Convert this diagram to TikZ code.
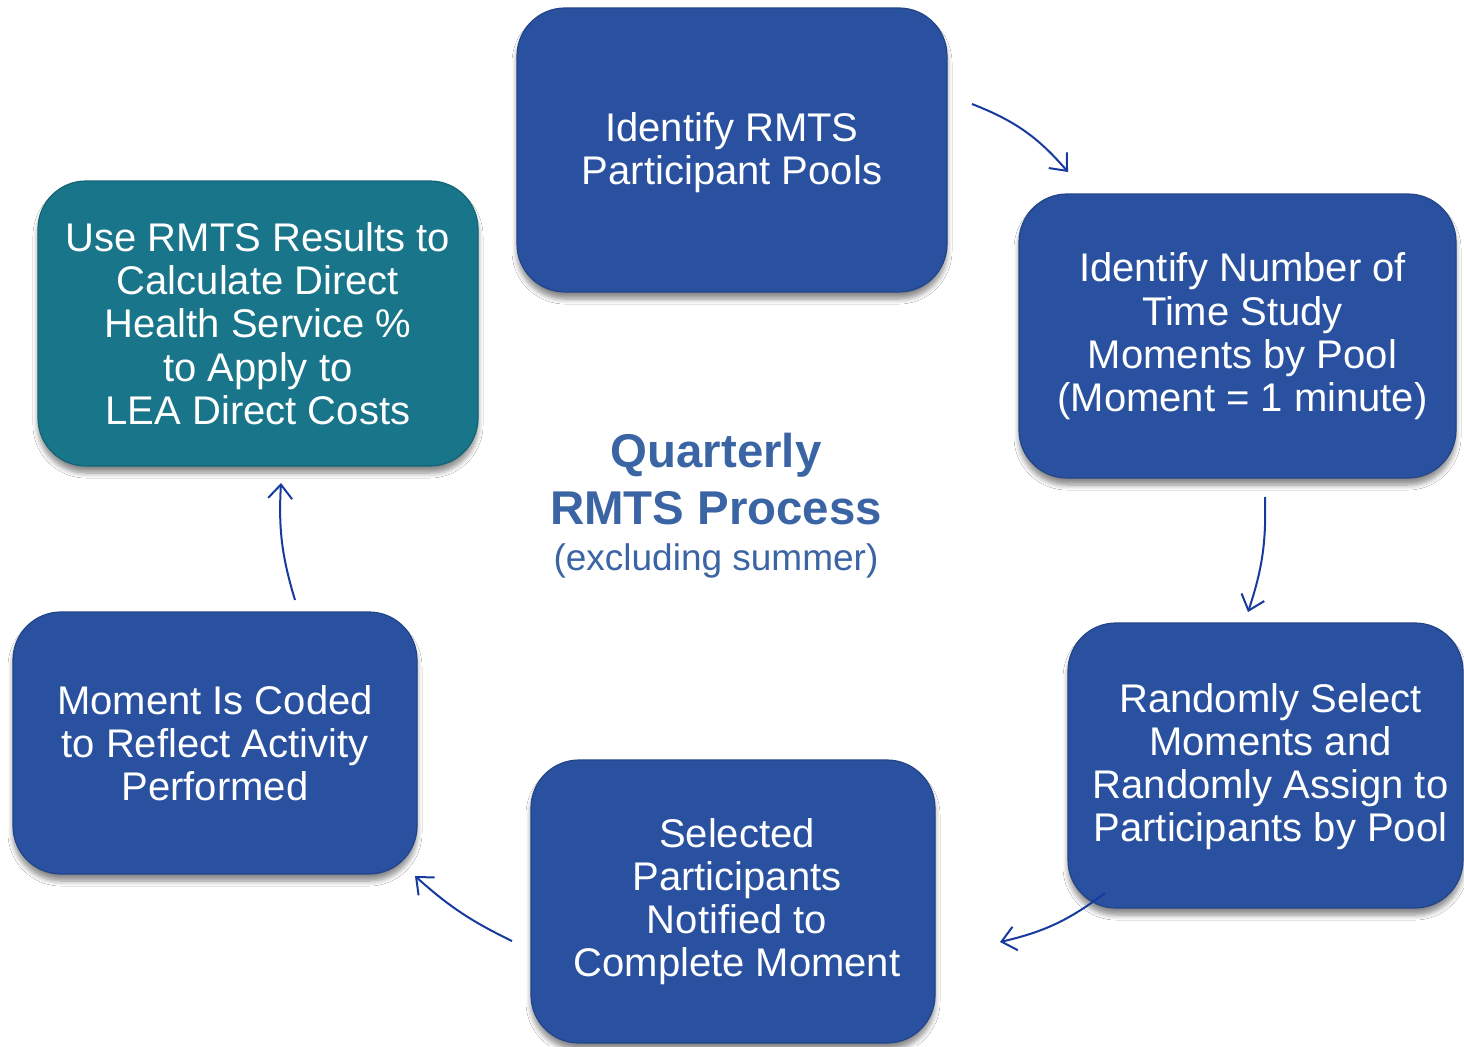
\documentclass[tikz,border=0pt]{standalone}
\usepackage{fontspec}
\setmainfont{Liberation Sans}
\usetikzlibrary{arrows.meta,shadows.blur}
\definecolor{boxblue}{RGB}{41,81,160}
\definecolor{boxteal}{RGB}{24,117,138}
\definecolor{titleblue}{RGB}{58,100,164}
\definecolor{arrowblue}{RGB}{22,58,158}
\newcommand{\nudged}[3]{\hspace*{#1}\raisebox{#2}[\height][\depth]{\begin{tabular}{@{}c@{}}#3\end{tabular}}\hspace*{-#1}}
\tikzset{
  stepbox/.style={rounded corners=24pt, fill=boxblue, draw=boxblue!85!black, line width=0.6pt,
    text=white, align=center, inner sep=0pt,
    font=\fontsize{20}{21.6}\selectfont,
    blur shadow={shadow xshift=0pt, shadow yshift=-3.5pt, shadow blur radius=2.5pt, shadow blur steps=6, shadow opacity=45}},
  tealbox/.style={stepbox, fill=boxteal, draw=boxteal!85!black},
  flow/.style={draw=arrowblue, line width=1pt, -{Straight Barb[length=7pt,width=12pt,line width=1pt]}},
  titletext/.style={text=titleblue, inner sep=0pt, anchor=base}
}
\begin{document}
\begin{tikzpicture}[x=0.5pt,y=-0.5pt]
\useasboundingbox (0,0) rectangle (1464,1046);
\fill[white] (0,0) rectangle (1464,1046);

\node[stepbox, minimum width=215pt, minimum height=142pt] (a) at (732,150)
  {\nudged{0pt}{-2pt}{Identify RMTS\\Participant Pools}};
\node[stepbox, minimum width=218.5pt, minimum height=142pt] (b) at (1237.5,336)
  {\nudged{2.5pt}{-1pt}{Identify Number of\\Time Study\\Moments by Pool\\(Moment = 1 minute)}};
\node[stepbox, minimum width=197.5pt, minimum height=142.5pt] (c) at (1265.5,765.5)
  {\nudged{2.5pt}{-1.5pt}{Randomly Select\\Moments and\\Randomly Assign to\\Participants by Pool}};
\node[stepbox, minimum width=202pt, minimum height=141.5pt] (d) at (733,901.5)
  {\nudged{2pt}{-1pt}{Selected\\Participants\\Notified to\\Complete Moment}};
\node[stepbox, minimum width=202pt, minimum height=131pt] (e) at (215,743)
  {Moment Is Coded\\to Reflect Activity\\Performed};
\node[tealbox, minimum width=220pt, minimum height=142.5pt] (f) at (258,323.5)
  {Use RMTS Results to\\Calculate Direct\\Health Service \%\\to Apply to\\LEA Direct Costs};

\node[titletext, font=\fontsize{23.7}{28}\selectfont\bfseries] (t1) at (716,467) {Quarterly};
\node[titletext, font=\fontsize{23.7}{28}\selectfont\bfseries] (t2) at (716,524) {RMTS Process};
\node[titletext, font=\fontsize{18.5}{22}\selectfont] (t3) at (716,570) {(excluding summer)};

\coordinate (a1) at (972,104);  \coordinate (b0) at (1068,172);
\coordinate (b1) at (1265,497); \coordinate (c0) at (1248,612);
\coordinate (c1) at (1105,893); \coordinate (d0) at (1000,942);
\coordinate (d1) at (512,941);  \coordinate (e0) at (415,876);
\coordinate (e1) at (295,600);  \coordinate (f0) at (281,483);

\draw[flow] (a1) to[bend left=14] (b0);
\draw[flow] (b1) to[bend left=10] (c0);
\draw[flow] (c1) to[bend left=12] (d0);
\draw[flow] (d1) to[bend left=8] (e0);
\draw[flow] (e1) to[bend left=10] (f0);
\end{tikzpicture}
\end{document}
